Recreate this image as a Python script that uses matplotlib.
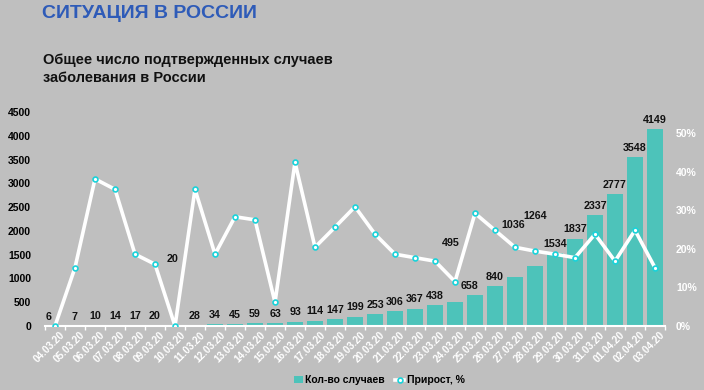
import matplotlib.pyplot as plt
import matplotlib.transforms as mtransforms
import numpy as np

plt.rcParams["font.family"] = ["Liberation Sans", "DejaVu Sans"]

dates = ["04.03.20", "05.03.20", "06.03.20", "07.03.20", "08.03.20", "09.03.20",
         "10.03.20", "11.03.20", "12.03.20", "13.03.20", "14.03.20", "15.03.20",
         "16.03.20", "17.03.20", "18.03.20", "19.03.20", "20.03.20", "21.03.20",
         "22.03.20", "23.03.20", "24.03.20", "25.03.20", "26.03.20", "27.03.20",
         "28.03.20", "29.03.20", "30.03.20", "31.03.20", "01.04.20", "02.04.20",
         "03.04.20"]
cases = [6, 7, 10, 14, 17, 20, 20, 28, 34, 45, 59, 63, 93, 114, 147, 199, 253,
         306, 367, 438, 495, 658, 840, 1036, 1264, 1534, 1837, 2337, 2777, 3548, 4149]
growth = [0, 15.1, 38.1, 35.4, 18.6, 16.0, 0, 35.4, 18.6, 28.3, 27.5, 6.1, 42.4,
          20.4, 25.6, 30.9, 23.8, 18.6, 17.7, 16.8, 11.5, 29.2, 24.8, 20.4, 19.4,
          18.6, 17.7, 23.8, 16.8, 24.8, 15.1]

BG = "#bfbfbf"
BAR = "#4dc3ba"
BLUE = "#2e5bb8"

fig = plt.figure(figsize=(7.04, 3.90), dpi=100, facecolor=BG)
ax = fig.add_axes([45 / 704, 1 - 326 / 390, 620 / 704, 214 / 390])
ax.set_facecolor(BG)

x = np.arange(len(cases))
ax.bar(x, cases, width=0.83, color=BAR, zorder=2, label="Кол-во случаев")
ax.set_xlim(-0.5, len(cases) - 0.5)
ax.set_ylim(0, 4500)
ax.set_yticks(range(0, 4501, 500))
ax.tick_params(axis="y", length=0, labelsize=7.5, labelcolor="black", pad=10)
for t in ax.get_yticklabels():
    t.set_fontweight("bold")

# category boundary ticks on x axis
ax.set_xticks(np.arange(-0.5, len(cases), 1.0))
ax.set_xticklabels([])
ax.tick_params(axis="x", length=3, color="white", width=1)
for s in ["top", "left", "right"]:
    ax.spines[s].set_visible(False)
ax.spines["bottom"].set_color("white")
ax.spines["bottom"].set_linewidth(1.5)

offset = mtransforms.ScaledTranslation(5 / 100, -4 / 100, fig.dpi_scale_trans)
for i, d in enumerate(dates):
    ax.text(i, 0, d, transform=ax.get_xaxis_transform() + offset, rotation=45,
            rotation_mode="anchor", ha="right", va="top", fontsize=7.2,
            color="white", fontweight="bold")

# data labels (a few lifted like in the original)
lift = {6: 1200, 20: 1050, 23: 900, 24: 850}
shift = {0: -0.3, 6: -0.1, 20: -0.2, 21: -0.3, 23: -0.1}
for i, v in enumerate(cases):
    ax.annotate(str(v), (i + shift.get(i, 0), v + lift.get(i, 0)),
                xytext=(0, 3), textcoords="offset points", ha="center",
                va="bottom", fontsize=7.7, fontweight="bold", color="#111111",
                zorder=5)

ax2 = ax.twinx()
ax2.set_ylim(0, 55.44)
ax2.set_yticks(range(0, 51, 10))
ax2.set_yticklabels([f"{v}%" for v in range(0, 51, 10)])
ax2.tick_params(axis="y", length=0, labelsize=7.5, labelcolor="white", pad=8)
for t in ax2.get_yticklabels():
    t.set_fontweight("bold")
for s in ax2.spines.values():
    s.set_visible(False)
ax2.plot(x, growth, color="white", lw=2.6, marker="o", ms=3.5,
         mfc="white", mec="#19d3da", mew=1.2, zorder=4, label="Прирост, %")

h1, l1 = ax.get_legend_handles_labels()
h2, l2 = ax2.get_legend_handles_labels()
leg = fig.legend(h1 + h2, l1 + l2, loc="center", bbox_to_anchor=(379 / 704, 1 - 380 / 390),
                 ncol=2, frameon=False, fontsize=7.5, handlelength=0.9,
                 handleheight=0.6, handletextpad=0.2, columnspacing=1.0)
for t in leg.get_texts():
    t.set_fontweight("bold")

fig.text(42 / 704, 1 - 14 / 390, "СИТУАЦИЯ В РОССИИ", color=BLUE, fontsize=14,
         fontweight="bold", ha="left", va="center")
fig.text(43 / 704, 1 - 69 / 390, "Общее число подтвержденных случаев\nзаболевания в России",
         color="#111111", fontsize=10.5, fontweight="bold", ha="left", va="center",
         linespacing=1.3)

fig.savefig("out.png", dpi=100, facecolor=BG)
